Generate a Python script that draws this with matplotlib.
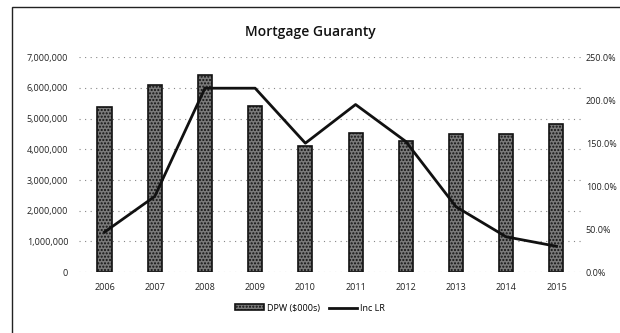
import matplotlib.pyplot as plt
from matplotlib.ticker import FuncFormatter, MultipleLocator
import matplotlib.patches as mpatches

plt.rcParams['font.family'] = ['Open Sans', 'DejaVu Sans']
plt.rcParams['hatch.color'] = '#1e1e1e'

years = ['2006', '2007', '2008', '2009', '2010', '2011', '2012', '2013', '2014', '2015']
dpw = [5370000, 6090000, 6420000, 5410000, 4100000, 4530000, 4270000, 4500000, 4500000, 4820000]
inc_lr = [46.5, 88, 214, 214, 150, 195, 152, 76, 41, 30]

fig = plt.figure(figsize=(6.2, 3.33), dpi=100)
ax = fig.add_axes([0.128, 0.183, 0.81, 0.645])
ax2 = ax.twinx()

x = range(len(years))
ax.bar(x, dpw, width=0.28, color='#7a7a7a', edgecolor='#111111', linewidth=1.2,
       hatch='.....', label='DPW ($000s)', zorder=2)
ax2.plot(x, inc_lr, color='#111111', linewidth=2.0, label='Inc LR', zorder=3)

ax.set_ylim(0, 7000000)
ax.set_xlim(-0.5, len(years) - 0.5)
ax.yaxis.set_major_locator(MultipleLocator(1000000))
ax.yaxis.set_major_formatter(FuncFormatter(lambda v, p: f'{int(v):,}'))
ax2.set_ylim(0, 250)
ax2.yaxis.set_major_locator(MultipleLocator(50))
ax2.yaxis.set_major_formatter(FuncFormatter(lambda v, p: f'{v:.1f}%'))

ax.set_xticks(list(x))
ax.set_xticklabels(years)
ax.grid(axis='y', linestyle=(0, (1, 4)), color='#888888', linewidth=0.8, zorder=0)
ax.set_axisbelow(True)

for a in (ax, ax2):
    for s in a.spines.values():
        s.set_visible(False)
    a.tick_params(length=0, labelsize=6.5, colors='#222222')
ax.tick_params(axis='x', pad=8)
ax.tick_params(axis='y', pad=8)
ax2.tick_params(axis='y', pad=3)

fig.text(0.5, 0.905, 'Mortgage Guaranty', ha='center', va='center', fontsize=10,
         fontweight='semibold', color='#111111')

h1, l1 = ax.get_legend_handles_labels()
h2, l2 = ax2.get_legend_handles_labels()
fig.legend(h1 + h2, l1 + l2, loc='center', bbox_to_anchor=(0.5, 0.075), ncol=2, frameon=False,
           fontsize=6.5, handlelength=3.2, handleheight=0.6, columnspacing=1.0, handletextpad=0.3)

border = mpatches.Rectangle((0.02, -0.05), 1.2, 1.03, transform=fig.transFigure, fill=False,
                            edgecolor='#222222', linewidth=1.0)
fig.patches.append(border)

fig.savefig('out.png', dpi=100)
